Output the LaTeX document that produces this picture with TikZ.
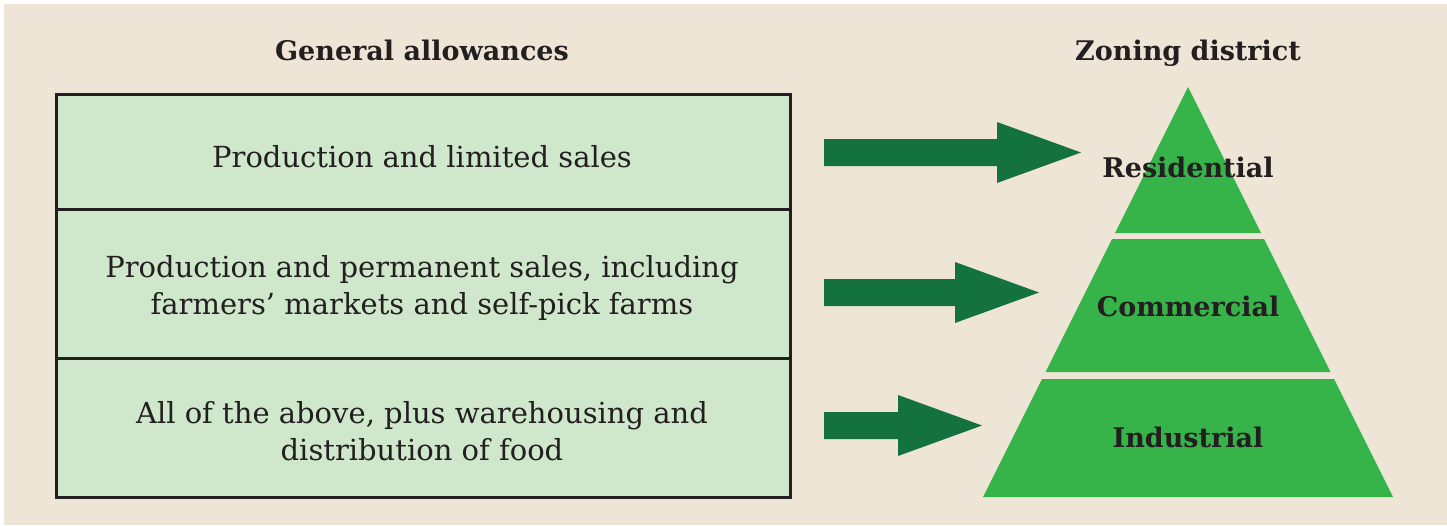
\documentclass[tikz,border=0pt]{standalone}
\usepackage{fontspec}
\setmainfont{DejaVu Serif}
\definecolor{bg}{RGB}{239,229,214}
\definecolor{boxfill}{RGB}{207,231,203}
\definecolor{arrowgreen}{RGB}{19,114,61}
\definecolor{pyrgreen}{RGB}{54,180,74}
\definecolor{ink}{RGB}{35,31,32}
\begin{document}
\begin{tikzpicture}[x=1pt,y=-1pt,
  rowbox/.style={draw=ink,line width=2.5pt,fill=boxfill,minimum width=734pt,inner sep=0pt,anchor=north west},
  rowtext/.style={text=ink,align=center,font=\fontsize{29}{37.5}\selectfont},
  header/.style={text=ink,anchor=base,font=\fontsize{27}{32}\selectfont\bfseries},
  tier/.style={text=ink,anchor=base,font=\fontsize{27}{32}\selectfont\bfseries},
  bigarrow/.style={fill=arrowgreen},
  pyr/.style={fill=pyrgreen}]
\useasboundingbox (0,0) rectangle (1447,525);
\fill[white] (0,0) rectangle (1447,525);
\fill[bg] (4,4) rectangle (1447,525);
% headers
\node[header] (h1) at (422,60) {General allowances};
\node[header] (h2) at (1188,60) {Zoning district};
% rows
\node[rowbox,minimum height=115pt] (r1) at (55,93) {};
\node[rowbox,minimum height=149pt] (r2) at (55,208) {};
\node[rowbox,minimum height=139pt] (r3) at (55,357) {};
\node[rowtext,anchor=base] (t1) at (422,167) {Production and limited sales};
\node[rowtext] (t2) at (422,288) {Production and permanent sales, including\\farmers’ markets and self-pick farms};
\node[rowtext] (t3) at (422,431) {All of the above, plus warehousing and\\distribution of food};
% arrows
\fill[bigarrow] (824,139) -- (997,139) -- (997,122) -- (1081,152.5) -- (997,183) -- (997,166) -- (824,166) -- cycle;
\fill[bigarrow] (824,279) -- (955,279) -- (955,262) -- (1039,292.5) -- (955,323) -- (955,306) -- (824,306) -- cycle;
\fill[bigarrow] (824,412) -- (898,412) -- (898,395) -- (982,425.5) -- (898,456) -- (898,439) -- (824,439) -- cycle;
% pyramid
\fill[pyr] (1188,87) -- (1261,233) -- (1115,233) -- cycle;
\fill[pyr] (1112,239) -- (1264,239) -- (1330.5,372) -- (1045.5,372) -- cycle;
\fill[pyr] (1042,379) -- (1334,379) -- (1393,497) -- (983,497) -- cycle;
\node[tier] (p1) at (1188,177) {Residential};
\node[tier] (p2) at (1188,316) {Commercial};
\node[tier] (p3) at (1188,447) {Industrial};
\end{tikzpicture}
\end{document}
